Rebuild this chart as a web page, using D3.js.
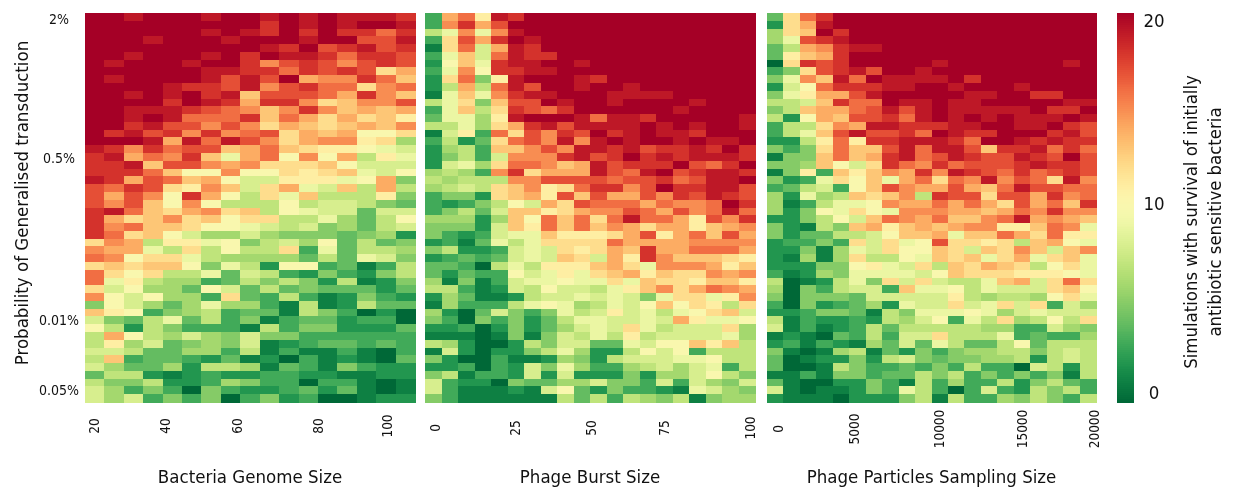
<!DOCTYPE html>
<html>
<head>
<meta charset="utf-8">
<script src="https://cdn.jsdelivr.net/npm/d3@7"></script>
<style>
  html, body { margin: 0; padding: 0; background: #fff; }
  text { font-family: "DejaVu Sans", sans-serif; font-stretch: condensed; fill: #111; }
  svg { filter: blur(0.35px); }
</style>
</head>
<body>
<div id="vis"></div>
<script>
const yTickLabels = ['2%', '0.5%', '0.01%', '0.05%'];
const yTickRows = [0.8, 18.6, 39.5, 48.5];

const genomeTickLabels = ['20', '40', '60', '80', '100'];
const genomeTickCols = [0.5, 4.12, 7.85, 12, 15.55];
const burstTickLabels = ['0', '25', '50', '75', '100'];
const burstTickCols = [0.6, 5.5, 10.1, 14.5, 19.7];
const samplingTickLabels = ['0', '5000', '10000', '15000', '20000'];
const samplingTickCols = [0.67, 5.3, 10.5, 15.5, 19.9];

const colorbarTickLabels = ['20', '10', '0'];
const colorbarTickValues = [19.6, 10.2, 0.5];

// simulations surviving (0-20), rows top to bottom
const genomeSize = [
  [20,20,19,20,20,20,19,20,20,19,20,19,20,19,19,19,18],
  [20,20,20,20,20,20,20,20,20,18,20,19,20,19,20,20,19],
  [20,20,20,20,20,20,19,20,19,18,20,18,20,18,18,16,18],
  [20,20,20,19,20,20,20,19,20,20,20,19,20,20,17,17,19],
  [20,20,20,20,20,20,20,20,20,19,18,20,17,18,19,17,18],
  [20,20,19,20,20,20,19,20,18,20,19,19,18,16,18,18,17],
  [20,19,20,20,20,19,20,20,18,15,17,18,17,15,17,18,17],
  [20,20,20,20,20,20,19,19,18,18,16,18,17,18,17,12,14],
  [20,19,20,20,20,20,19,17,19,17,20,14,15,15,18,16,13],
  [20,20,20,20,19,18,18,17,19,15,17,18,16,16,12,15,16],
  [20,20,19,20,19,20,18,19,13,17,17,17,16,14,18,15,13],
  [20,20,20,20,18,20,19,18,14,18,18,15,12,13,15,15,17],
  [20,20,19,19,19,18,17,16,15,13,15,18,15,13,14,13,14],
  [20,20,19,20,19,16,16,16,18,13,16,14,12,14,12,13,11],
  [20,20,18,19,17,17,15,17,15,12,14,13,12,13,14,13,15],
  [20,18,19,17,18,15,18,15,16,17,12,14,13,14,10,10,12],
  [20,20,20,19,14,19,16,19,17,15,12,14,15,15,11,12,6],
  [19,18,15,18,16,17,17,13,14,16,13,12,11,11,10,9,8],
  [18,19,14,16,15,18,13,9,14,16,10,15,10,14,7,11,9],
  [18,18,19,13,17,17,15,14,15,12,12,12,13,10,8,8,8],
  [18,18,18,16,13,10,10,15,10,10,12,11,12,13,9,8,10],
  [19,18,14,17,16,13,14,10,8,8,11,11,11,9,10,14,5],
  [17,16,18,17,12,11,15,13,8,12,14,9,8,13,7,14,7],
  [17,14,17,15,10,18,14,10,7,12,9,13,7,7,7,11,5],
  [17,15,17,13,10,15,10,7,7,7,10,7,8,8,7,5,4],
  [18,19,16,13,12,14,15,12,13,7,10,9,8,8,4,8,8],
  [18,14,12,13,15,12,13,10,12,12,7,7,9,6,4,7,10],
  [18,15,16,13,13,12,10,10,9,8,7,8,5,6,4,7,8],
  [18,16,12,13,10,8,6,6,8,6,5,5,5,4,5,6,2],
  [12,15,14,7,11,11,9,10,5,7,8,6,10,4,7,4,5],
  [15,14,14,9,7,12,7,10,7,7,12,3,9,4,7,7,6],
  [16,15,10,12,12,9,7,6,6,6,6,4,7,4,9,8,5],
  [12,13,12,13,13,10,5,9,7,2,10,10,3,4,1,3,7],
  [16,12,10,12,7,7,9,4,8,7,3,2,5,3,2,5,7],
  [16,9,11,7,6,6,3,4,7,5,7,5,2,7,1,2,5],
  [12,8,10,6,6,4,10,8,4,7,4,5,4,4,4,2,4],
  [15,10,8,10,6,6,3,12,4,3,7,3,1,2,5,3,2],
  [5,10,8,6,4,6,9,6,6,3,1,7,1,2,7,4,4],
  [13,11,10,3,5,6,7,3,4,4,1,7,5,3,0,2,0],
  [8,5,4,7,9,4,7,3,5,1,3,4,4,2,3,3,0],
  [10,7,2,7,5,3,3,3,1,7,3,5,5,2,2,2,4],
  [7,14,10,7,6,8,6,5,8,5,5,3,3,3,3,3,3],
  [7,11,6,8,4,5,6,5,8,1,2,3,4,4,3,4,3],
  [8,8,7,4,4,6,6,3,7,1,3,1,1,3,1,0,3],
  [7,13,3,4,4,3,2,4,1,2,0,3,1,2,1,0,4],
  [8,6,4,4,6,2,7,7,6,1,4,3,1,5,3,2,2],
  [4,7,7,2,1,2,3,2,2,3,3,2,2,1,1,2,2],
  [7,5,5,7,2,2,3,6,5,3,3,0,3,3,1,0,1],
  [8,6,3,5,3,0,5,3,2,2,3,4,2,4,1,0,1],
  [8,6,8,3,5,3,5,0,3,5,2,3,0,0,1,2,2]
];

const burstSize = [
  [3,14,16,11,19,18,20,20,20,20,20,20,20,20,20,20,20,20,20,20],
  [3,15,18,14,17,20,20,20,20,20,20,20,20,20,20,20,20,20,20,20],
  [7,9,15,9,15,19,20,20,20,20,20,20,20,20,20,20,20,20,20,20],
  [3,12,17,14,18,20,19,20,20,20,20,20,20,20,20,20,20,20,20,20],
  [1,12,16,8,14,19,18,20,20,20,20,20,20,20,20,20,20,20,20,20],
  [3,9,13,8,16,19,18,18,20,20,20,20,20,20,20,20,20,20,20,20],
  [2,10,13,9,18,19,19,20,20,19,20,20,20,20,20,20,20,20,20,20],
  [3,9,15,10,18,18,19,19,20,20,20,20,20,20,20,20,20,20,20,20],
  [2,12,16,5,11,19,20,20,20,19,18,20,20,20,20,20,20,20,20,20],
  [2,7,14,7,16,19,17,20,20,19,20,20,19,20,20,20,20,20,20,20],
  [1,9,13,9,15,18,19,19,20,20,20,19,19,19,19,20,20,20,20,20],
  [7,9,12,5,13,17,17,20,19,20,20,19,20,20,20,20,19,20,20,20],
  [3,9,13,7,12,18,17,16,18,20,20,20,20,20,20,19,20,20,20,20],
  [4,9,9,6,11,19,20,20,20,19,16,19,19,18,20,20,20,20,20,19],
  [7,7,9,6,12,14,18,19,17,19,19,19,19,20,19,20,19,20,20,19],
  [1,8,11,3,16,12,17,15,18,17,20,18,19,20,19,19,18,20,20,20],
  [3,7,2,4,12,16,17,15,19,15,19,20,19,20,20,19,20,19,19,20],
  [2,6,7,3,13,13,15,17,15,19,19,18,19,17,18,18,19,18,20,18],
  [2,5,7,3,8,15,15,15,18,19,17,18,20,18,19,18,19,19,19,18],
  [2,8,9,6,12,16,16,15,13,14,19,17,18,18,18,20,17,16,18,20],
  [6,7,6,3,15,18,12,14,14,14,19,17,16,19,20,17,18,19,19,18],
  [7,6,7,7,7,15,15,17,17,17,17,16,17,17,18,16,17,19,19,20],
  [6,7,8,7,12,13,15,11,12,16,18,18,15,17,20,18,18,19,19,17],
  [3,5,5,2,12,13,14,11,17,13,17,14,14,17,15,18,17,19,18,17],
  [3,2,3,5,7,10,8,14,12,17,16,16,16,14,16,15,15,16,20,18],
  [3,5,7,4,8,13,13,11,12,14,15,15,17,16,14,17,15,16,19,16],
  [6,6,6,2,6,13,10,16,13,16,12,16,19,16,16,14,11,17,15,18],
  [5,5,5,2,8,13,11,16,13,16,13,15,14,12,14,14,11,13,14,15],
  [5,3,2,3,8,9,9,13,11,11,11,12,14,17,11,14,16,13,17,14],
  [2,3,1,4,9,7,9,12,12,12,12,16,14,14,14,14,15,15,15,15],
  [5,7,2,2,3,8,9,8,12,11,12,14,13,18,14,14,16,16,16,14],
  [2,3,4,3,4,8,9,8,13,12,8,14,11,18,15,13,13,13,12,11],
  [4,4,3,0,7,9,7,11,11,11,13,14,12,9,15,15,15,14,11,13],
  [4,2,4,3,3,10,8,9,11,9,12,13,14,11,13,12,12,15,14,15],
  [6,1,5,1,3,8,9,9,10,9,9,12,9,13,12,12,11,13,13,11],
  [7,7,3,1,2,8,7,10,8,8,7,9,11,13,15,12,14,16,15,14],
  [2,6,4,1,1,2,7,8,8,9,8,9,8,5,9,12,12,9,11,15],
  [1,6,3,3,3,7,9,10,9,6,7,9,8,10,13,10,12,11,7,12],
  [6,2,0,4,8,5,3,5,9,7,8,11,8,9,7,9,10,12,13,8],
  [5,3,0,5,3,5,2,4,7,9,9,8,8,9,8,14,11,9,9,10],
  [2,2,3,0,2,5,2,4,6,8,9,8,12,9,7,8,8,8,12,6],
  [1,1,1,0,1,5,1,5,8,7,9,7,11,7,8,8,8,8,9,6],
  [7,6,2,0,0,2,7,5,8,8,4,4,9,8,10,10,13,11,13,7],
  [1,8,2,0,2,2,5,7,9,6,2,2,7,10,8,10,3,7,7,7],
  [5,2,0,0,3,1,1,2,6,5,2,7,8,8,8,9,9,10,7,7],
  [2,2,3,0,3,2,8,5,9,6,3,3,6,7,8,6,8,9,3,7],
  [5,7,1,3,3,2,8,2,8,2,2,2,5,2,6,6,8,10,7,5],
  [8,3,2,2,0,5,4,4,6,6,8,5,5,3,8,3,8,6,5,8],
  [8,3,1,1,1,2,1,8,10,4,2,5,3,3,2,1,9,8,6,5],
  [5,3,1,1,1,1,1,1,7,4,7,3,7,6,5,7,1,5,6,6]
];

const samplingSize = [
  [4,12,16,18,20,20,20,20,20,20,20,20,20,20,20,20,20,20,20,20],
  [2,12,14,19,20,20,20,20,20,20,20,20,20,20,20,20,20,20,20,20],
  [6,12,13,20,18,20,20,20,20,20,20,20,20,20,20,20,20,20,20,20],
  [6,9,17,18,19,20,20,20,20,20,20,20,20,20,20,20,20,20,20,20],
  [4,7,14,15,18,19,19,20,20,20,20,20,20,20,20,20,20,20,20,20],
  [4,11,13,14,18,20,20,20,20,20,20,20,20,20,20,20,20,20,20,20],
  [0,12,18,17,18,20,20,20,20,20,19,20,20,20,20,20,20,20,19,20],
  [3,5,12,17,18,19,17,20,20,19,20,20,20,20,20,20,20,20,20,20],
  [5,9,15,13,19,16,20,19,19,19,19,20,18,20,20,20,20,20,20,20],
  [2,8,10,16,18,18,18,19,19,20,20,19,20,20,20,19,20,20,20,20],
  [5,9,11,14,14,17,19,20,20,20,20,20,19,19,20,20,18,18,20,20],
  [7,7,8,13,18,16,16,20,19,19,20,19,19,20,20,20,20,20,19,19],
  [5,7,13,14,14,16,17,19,17,19,20,19,19,19,19,19,20,18,18,20],
  [7,2,10,14,13,17,17,18,16,19,20,19,20,19,20,19,19,19,20,19],
  [3,7,7,12,15,14,19,19,18,18,18,19,19,20,20,19,19,20,18,17],
  [3,7,9,13,17,19,17,17,18,16,20,19,18,18,20,20,20,18,19,17],
  [2,2,7,11,16,11,18,18,19,19,19,18,16,20,20,19,18,19,18,18],
  [5,3,5,12,16,13,13,17,19,16,19,19,17,13,18,18,19,16,18,16],
  [1,5,5,13,16,13,14,18,19,16,17,19,18,17,17,19,18,17,20,17],
  [5,5,6,13,10,8,12,18,16,15,18,16,17,17,17,18,19,18,18,17],
  [1,5,11,3,13,11,13,15,14,18,15,19,18,17,16,18,16,17,18,17],
  [5,2,3,9,12,10,13,9,14,16,12,16,15,19,15,17,16,12,19,15],
  [3,4,7,8,3,10,13,17,15,14,14,17,14,13,16,19,17,17,16,16],
  [6,2,9,6,7,13,12,13,15,7,18,17,17,12,17,17,14,18,15,16],
  [6,1,3,7,9,9,10,15,14,14,16,14,16,14,12,17,14,16,13,18],
  [6,2,5,10,9,12,10,9,15,15,15,14,14,13,14,16,15,18,15,15],
  [2,2,5,7,10,8,13,16,15,14,16,13,13,15,16,19,14,15,14,13],
  [5,2,1,7,5,13,14,11,13,14,13,14,15,15,11,11,13,16,15,9],
  [5,2,4,4,7,7,8,10,13,13,14,9,13,13,16,14,12,16,11,11],
  [2,3,3,5,3,12,8,12,9,10,17,12,12,11,12,7,13,14,10,9],
  [2,2,5,1,6,9,8,12,10,10,13,12,8,13,12,15,13,8,13,15],
  [2,1,6,1,6,12,7,7,10,9,13,12,13,9,12,14,9,12,13,9],
  [2,2,2,5,5,10,11,9,8,12,7,13,12,14,13,12,7,10,12,9],
  [3,1,2,6,5,9,9,9,9,8,10,13,12,12,12,11,11,11,10,9],
  [7,0,1,2,7,9,5,12,8,12,8,7,7,9,13,14,8,12,16,12],
  [6,0,5,3,7,8,8,3,13,9,9,10,7,9,8,8,8,12,13,10],
  [5,0,5,5,5,4,8,8,8,8,8,11,7,6,7,7,6,10,12,9],
  [3,0,5,2,3,4,6,2,9,8,8,12,8,9,12,8,12,3,8,6],
  [2,2,3,5,5,4,1,7,5,9,9,9,10,9,6,8,9,8,8,8],
  [7,1,3,2,2,3,2,7,6,8,10,3,9,7,12,6,7,10,7,12],
  [8,1,3,1,2,3,7,4,7,7,7,7,7,6,6,3,3,8,6,5],
  [1,2,1,0,4,3,7,3,8,8,12,7,7,7,9,3,4,3,3,6],
  [2,3,1,3,2,1,6,4,8,4,9,7,4,4,7,10,4,7,7,7],
  [5,1,0,1,6,7,1,4,2,5,3,5,6,6,7,7,5,7,8,7],
  [4,0,1,2,2,5,2,7,8,5,4,5,5,6,6,7,2,7,8,7],
  [4,0,0,1,7,5,3,3,4,3,5,3,7,3,3,0,8,7,2,7],
  [1,1,3,1,5,5,3,4,4,7,5,7,3,5,3,5,3,5,1,7],
  [4,1,0,0,2,2,5,3,1,7,3,6,3,3,7,2,5,7,4,3],
  [8,1,0,1,1,2,5,3,9,7,3,0,3,8,3,2,7,5,7,3],
  [2,1,1,1,0,2,2,2,5,7,1,7,3,3,6,5,7,5,3,7]
];

const width = 1237;
const height = 487;
const plotTop = 13;
const plotBottom = 402;

const color = d3.scaleSequential(d3.interpolateRdYlGn).domain([20, 0]);

const svg = d3.select('#vis').append('svg')
  .attr('width', width)
  .attr('height', height)
  .style('display', 'block');

const panels = [
  { rows: genomeSize, x0: 85, x1: 415, ticks: genomeTickLabels, cols: genomeTickCols, tickY: 426, title: 'Bacteria Genome Size' },
  { rows: burstSize, x0: 425, x1: 755, ticks: burstTickLabels, cols: burstTickCols, tickY: 428, title: 'Phage Burst Size' },
  { rows: samplingSize, x0: 767, x1: 1096, ticks: samplingTickLabels, cols: samplingTickCols, tickY: 429, title: 'Phage Particles Sampling Size' }
];

const rowScale = d3.scaleBand()
  .domain(d3.range(genomeSize.length))
  .range([plotTop, plotBottom]);
const rowPos = d3.scaleLinear()
  .domain([0, genomeSize.length])
  .range([plotTop, plotBottom]);

panels.forEach(function(p) {
  const colScale = d3.scaleBand()
    .domain(d3.range(p.rows[0].length))
    .range([p.x0, p.x1]);
  const colPos = d3.scaleLinear()
    .domain([0, p.rows[0].length])
    .range([p.x0, p.x1]);

  const g = svg.append('g');
  g.selectAll('g.row')
    .data(p.rows)
    .join('g')
    .attr('class', 'row')
    .attr('transform', function(d, i) { return 'translate(0,' + rowScale(i) + ')'; })
    .selectAll('rect')
    .data(function(d) { return d; })
    .join('rect')
    .attr('x', function(d, i) { return colScale(i); })
    .attr('width', colScale.bandwidth() + 0.5)
    .attr('height', rowScale.bandwidth() + 0.5)
    .attr('shape-rendering', 'crispEdges')
    .attr('fill', function(d) { return color(d); });

  // tick labels sit a bit off the cell centres in the original
  g.selectAll('text.xtick')
    .data(p.ticks)
    .join('text')
    .attr('class', 'xtick')
    .attr('transform', function(d, i) {
      return 'translate(' + colPos(p.cols[i]) + ',' + p.tickY + ') rotate(-90)';
    })
    .attr('text-anchor', 'middle')
    .attr('dy', '0.35em')
    .attr('font-size', 13.5)
    .text(function(d) { return d; });

  g.append('text')
    .attr('x', (p.x0 + p.x1) / 2)
    .attr('y', 483)
    .attr('text-anchor', 'middle')
    .attr('font-size', 18.5)
    .text(p.title);
});

// y axis
svg.selectAll('text.ytick')
  .data(yTickLabels)
  .join('text')
  .attr('class', 'ytick')
  .attr('x', 59)
  .attr('y', function(d, i) { return rowPos(yTickRows[i]); })
  .attr('text-anchor', 'middle')
  .attr('dy', '0.35em')
  .attr('font-size', 14)
  .text(function(d) { return d; });

svg.append('text')
  .attr('transform', 'translate(22,203) rotate(-90)')
  .attr('text-anchor', 'middle')
  .attr('dy', '0.35em')
  .attr('font-size', 18.5)
  .text('Probability of Generalised transduction');

// colour bar
const barScale = d3.scaleLinear().domain([0, 20]).range([plotBottom, plotTop]);
const barSteps = d3.range(0, 20, 0.1);
svg.append('g').selectAll('rect')
  .data(barSteps)
  .join('rect')
  .attr('x', 1117)
  .attr('width', 17)
  .attr('y', function(d) { return barScale(d + 0.1); })
  .attr('height', barScale(0) - barScale(0.1) + 0.5)
  .attr('shape-rendering', 'crispEdges')
  .attr('fill', function(d) { return color(d); });

svg.selectAll('text.ctick')
  .data(colorbarTickLabels)
  .join('text')
  .attr('class', 'ctick')
  .attr('x', 1154)
  .attr('y', function(d, i) { return barScale(colorbarTickValues[i]); })
  .attr('text-anchor', 'middle')
  .attr('dy', '0.35em')
  .attr('font-size', 18.5)
  .text(function(d) { return d; });

svg.append('text')
  .attr('transform', 'translate(1191,222) rotate(-90)')
  .attr('text-anchor', 'middle')
  .attr('dy', '0.35em')
  .attr('font-size', 18.4)
  .text('Simulations with survival of initially');
svg.append('text')
  .attr('transform', 'translate(1215,222) rotate(-90)')
  .attr('text-anchor', 'middle')
  .attr('dy', '0.35em')
  .attr('font-size', 18.4)
  .text('antibiotic sensitive bacteria');
</script>
</body>
</html>
